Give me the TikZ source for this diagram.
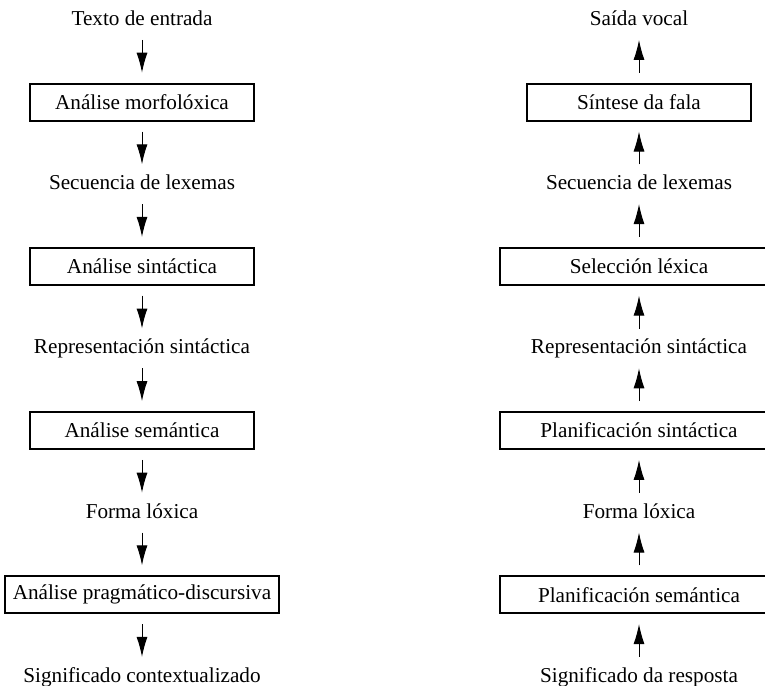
\documentclass[tikz,border=0pt]{standalone}
\usepackage{fontspec}
\setmainfont{Liberation Serif}
\usetikzlibrary{positioning}
\usetikzlibrary{arrows.meta}

\begin{document}
\begin{tikzpicture}[
    node distance=26.4pt,
    block/.style={rectangle, draw, line width=0.9pt, minimum width=112pt, minimum height=18.5pt, inner xsep=3.5pt, font=\fontsize{10.6}{12}\selectfont},
    data/.style={inner sep=0pt, text height=7.5pt, text depth=2pt, font=\fontsize{10.6}{12}\selectfont},
    arrow/.style={-{Latex[length=10pt,width=5.5pt]}, line width=0.5pt, shorten <=5pt, shorten >=5pt}
]
\useasboundingbox (0,0) rectangle (382.5pt,-342.5pt);

% Comprension (left)
\node[data] (lin) at (71pt,-10pt) {Texto de entrada};
\node[block, below=of lin] (lmorf) {Análise morfolóxica};
\node[data, below=of lmorf] (llex) {Secuencia de lexemas};
\node[block, below=of llex] (lsint) {Análise sintáctica};
\node[data, below=of lsint] (lrep) {Representación sintáctica};
\node[block, below=of lrep] (lsem) {Análise semántica};
\node[data, below=of lsem] (lform) {Forma lóxica};
\node[block, minimum width=137pt, below=of lform] (lprag) {Análise pragmático-discursiva};
\node[data, below=of lprag] (lout) {Significado contextualizado};

% Produccion (right)
\node[data] (rout) at (319.5pt,-10pt) {Saída vocal};
\node[block, below=of rout] (rfala) {Síntese da fala};
\node[data, below=of rfala] (rlex) {Secuencia de lexemas};
\node[block, minimum width=139pt, below=of rlex] (rsel) {Selección léxica};
\node[data, below=of rsel] (rrep) {Representación sintáctica};
\node[block, minimum width=139pt, below=of rrep] (rsint) {Planificación sintáctica};
\node[data, below=of rsint] (rform) {Forma lóxica};
\node[block, minimum width=139pt, below=of rform] (rsem) {Planificación semántica};
\node[data, below=of rsem] (rin) {Significado da resposta};

% Arrows
\draw[arrow] (lin) -- (lmorf);
\draw[arrow] (lmorf) -- (llex);
\draw[arrow] (llex) -- (lsint);
\draw[arrow] (lsint) -- (lrep);
\draw[arrow] (lrep) -- (lsem);
\draw[arrow] (lsem) -- (lform);
\draw[arrow] (lform) -- (lprag);
\draw[arrow] (lprag) -- (lout);

\draw[arrow] (rin) -- (rsem);
\draw[arrow] (rsem) -- (rform);
\draw[arrow] (rform) -- (rsint);
\draw[arrow] (rsint) -- (rrep);
\draw[arrow] (rrep) -- (rsel);
\draw[arrow] (rsel) -- (rlex);
\draw[arrow] (rlex) -- (rfala);
\draw[arrow] (rfala) -- (rout);
\end{tikzpicture}
\end{document}
